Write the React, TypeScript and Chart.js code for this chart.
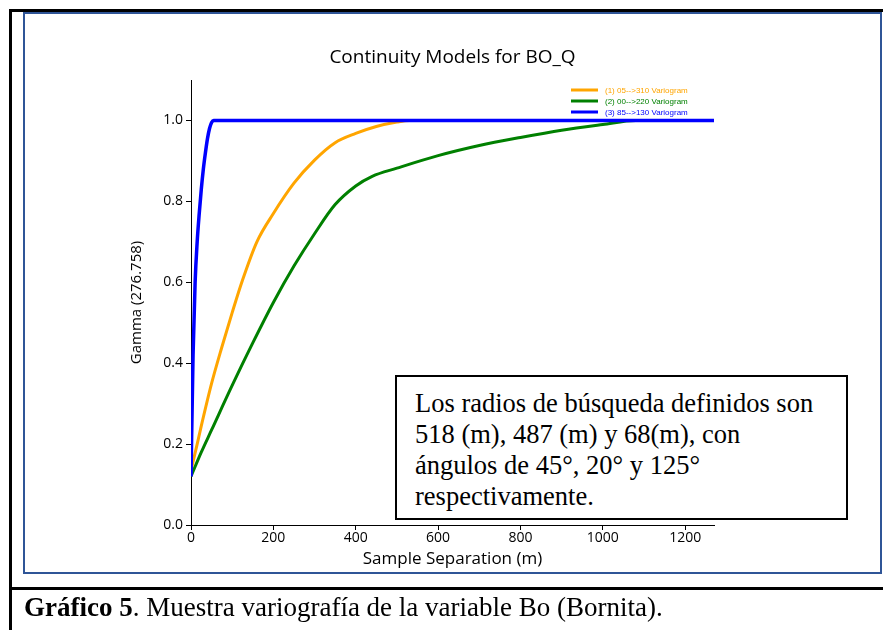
import React, { useEffect, useRef } from "react";
import { Chart, registerables } from "chart.js";

Chart.register(...registerables);

const chartTitle = "Continuity Models for BO_Q";
const xAxisTitle = "Sample Separation (m)";
const yAxisTitle = "Gamma (276.758)";
const seriesNames = ["(1) 05-->310 Variogram", "(2) 00-->220 Variogram", "(3) 85-->130 Variogram"];
const seriesColors = ["#FFA500", "#008000", "#0000FF"];

const orangeLag = [0, 15, 25, 50, 75, 100, 125, 160, 200, 250, 300, 350, 400, 450, 500, 530, 1270];
const orangeGamma = [0.135, 0.2, 0.245, 0.35, 0.44, 0.525, 0.605, 0.7, 0.77, 0.845, 0.902, 0.945, 0.968, 0.985, 0.996, 1.0, 1.0];

const greenLag = [0, 25, 50, 100, 150, 200, 250, 300, 350, 400, 440, 500, 600, 700, 800, 900, 1000, 1080, 1270];
const greenGamma = [0.12, 0.18, 0.235, 0.345, 0.45, 0.55, 0.64, 0.72, 0.792, 0.838, 0.862, 0.882, 0.913, 0.938, 0.958, 0.976, 0.99, 1.0, 1.0];

const blueLag = [0, 5, 10, 15, 20, 25, 30, 35, 40, 45, 50, 55, 1270];
const blueGamma = [0.12, 0.42, 0.6, 0.7, 0.77, 0.83, 0.88, 0.92, 0.955, 0.98, 0.995, 1.0, 1.0];

const xMin = 0;
const xMax = 1270;
const xStep = 200;
const yMin = 0;
const yMax = 1.1;
const yStep = 0.2;

const boxLines = [
  "Los radios de búsqueda definidos son",
  "518 (m), 487 (m) y 68(m), con",
  "ángulos de 45°, 20° y 125°",
  "respectivamente.",
];
const captionBold = "Gráfico 5";
const captionRest = ". Muestra variografía de la variable Bo (Bornita).";

function toPoints(xs: number[], ys: number[]) {
  return xs.map((x, i) => ({ x, y: ys[i] }));
}

const legendPlugin = {
  id: "customLegend",
  afterDraw(chart: any) {
    const ctx = chart.ctx;
    const area = chart.chartArea;
    ctx.save();
    ctx.font = "8px 'Liberation Sans', Arial, sans-serif";
    ctx.textBaseline = "middle";
    seriesNames.forEach((name, i) => {
      const y = area.top + 10 + i * 11;
      const x0 = area.right - 143;
      ctx.strokeStyle = seriesColors[i];
      ctx.lineWidth = 3;
      ctx.beginPath();
      ctx.moveTo(x0, y);
      ctx.lineTo(x0 + 27, y);
      ctx.stroke();
      ctx.fillStyle = seriesColors[i];
      ctx.fillText(name, x0 + 34, y + 0.5);
    });
    ctx.restore();
  },
};

export default function App() {
  const canvasRef = useRef<HTMLCanvasElement | null>(null);

  useEffect(() => {
    if (!canvasRef.current) return;
    const family = "'Open Sans', sans-serif";
    const tickFont = { family, size: 14 };
    const mk = (i: number, xs: number[], ys: number[], order: number) => ({
      label: seriesNames[i],
      data: toPoints(xs, ys),
      borderColor: seriesColors[i],
      backgroundColor: seriesColors[i],
      borderWidth: i === 2 ? 3.5 : 3,
      pointRadius: 0,
      cubicInterpolationMode: "monotone",
      order,
    });
    const chart = new Chart(canvasRef.current, {
      type: "line",
      data: {
        datasets: [
          mk(0, orangeLag, orangeGamma, 2),
          mk(1, greenLag, greenGamma, 1),
          mk(2, blueLag, blueGamma, 0),
        ],
      },
      options: {
        responsive: false,
        animation: false,
        layout: { padding: { left: 0, right: 169, top: 0, bottom: 60 } },
        plugins: {
          legend: { display: false },
          tooltip: { enabled: false },
          title: {
            display: true,
            fullSize: false,
            text: chartTitle,
            color: "#000",
            font: { family, size: 19, weight: "normal" },
            padding: { top: 46.6, bottom: 10.6 },
          },
        },
        scales: {
          x: {
            type: "linear",
            min: xMin,
            max: xMax,
            afterFit: (s: any) => {
              s.height = 45;
            },
            ticks: {
              stepSize: xStep,
              includeBounds: false,
              color: "#000",
              font: tickFont,
              padding: 0,
              maxRotation: 0,
              callback: (v: any) => String(v),
            },
            grid: { display: true, drawOnChartArea: false, tickLength: 5, color: "#000" },
            border: { display: true, color: "#000", width: 1 },
            title: {
              display: true,
              text: xAxisTitle,
              color: "#000",
              font: { family, size: 17 },
              padding: { top: 0, bottom: 1 },
            },
          },
          y: {
            type: "linear",
            min: yMin,
            max: yMax,
            afterFit: (s: any) => {
              s.width = 191;
            },
            ticks: {
              stepSize: yStep,
              includeBounds: false,
              color: "#000",
              font: tickFont,
              padding: 3,
              callback: (v: any) => Number(v).toFixed(1),
            },
            grid: { display: true, drawOnChartArea: false, tickLength: 5, color: "#000" },
            border: { display: true, color: "#000", width: 1 },
            title: {
              display: true,
              text: yAxisTitle,
              color: "#000",
              font: { family, size: 15 },
              padding: { top: 128, bottom: 0 },
            },
          },
        },
      },
      plugins: [legendPlugin],
    } as any);
    return () => chart.destroy();
  }, []);

  const serif = "'Liberation Serif', 'Times New Roman', serif";

  return (
    <div style={{ position: "absolute", left: 0, top: 0, width: 883, height: 630, overflow: "hidden", background: "#fff" }}>
      <canvas ref={canvasRef} width={883} height={630} style={{ position: "absolute", left: 0, top: 0 }} />
      <div style={{ position: "absolute", left: 9, top: 9, width: 874, height: 3, background: "#000" }} />
      <div style={{ position: "absolute", left: 9, top: 9, width: 3, height: 621, background: "#000" }} />
      <div style={{ position: "absolute", left: 9, top: 587, width: 874, height: 3, background: "#000" }} />
      <div
        style={{
          position: "absolute",
          left: 23,
          top: 12,
          width: 855,
          height: 558,
          border: "2px solid #2F5597",
          boxSizing: "content-box",
        }}
      />
      <div
        style={{
          position: "absolute",
          left: 395,
          top: 375,
          width: 453,
          height: 145,
          boxSizing: "border-box",
          border: "2px solid #000",
          background: "#fff",
          padding: "11px 0 0 18px",
          fontFamily: serif,
          fontSize: 26.5,
          lineHeight: "31px",
          color: "#000",
          whiteSpace: "nowrap",
        }}
      >
        {boxLines.map((l, i) => (
          <div key={i}>{l}</div>
        ))}
      </div>
      <div
        style={{
          position: "absolute",
          left: 24,
          top: 592,
          fontFamily: serif,
          fontSize: 27,
          lineHeight: "30px",
          color: "#000",
          whiteSpace: "nowrap",
        }}
      >
        <b>{captionBold}</b>
        {captionRest}
      </div>
    </div>
  );
}
